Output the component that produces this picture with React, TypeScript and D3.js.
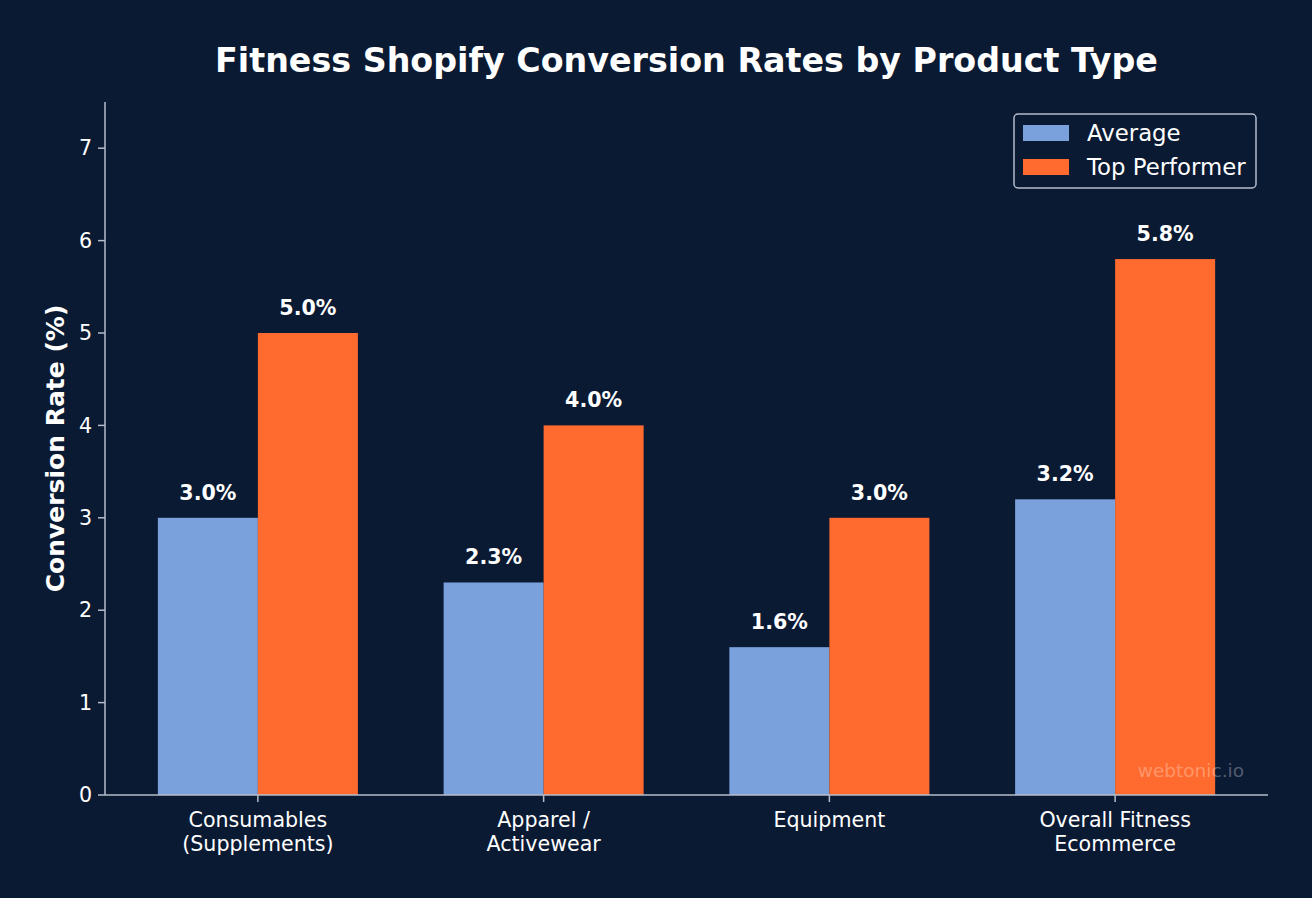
import * as d3 from 'd3';

const categories = ['Consumables\n(Supplements)', 'Apparel /\nActivewear', 'Equipment', 'Overall Fitness\nEcommerce'];
const averageRates = [3.0, 2.3, 1.6, 3.2];
const topRates = [5.0, 4.0, 3.0, 5.8];
const yTicks = [0, 1, 2, 3, 4, 5, 6, 7];
const seriesNames = ['Average', 'Top Performer'];

const width = 1312;
const height = 898;
const margin = { top: 102, right: 44, bottom: 103, left: 105 };
const bg = '#0b1a33';
const blue = '#7ba1dd';
const orange = '#ff6b2e';
const spine = '#b4bccb';
const font = 'DejaVu Sans, sans-serif';

export default function App() {
  const innerW = width - margin.left - margin.right;
  const innerH = height - margin.top - margin.bottom;

  const x = d3.scaleLinear().domain([-0.535, categories.length - 1 + 0.535]).range([0, innerW]);
  const y = d3.scaleLinear().domain([0, 7.5]).range([innerH, 0]);
  const barW = x(0.35) - x(0);

  const series = [
    { name: seriesNames[0], values: averageRates, color: blue, offset: -0.175 },
    { name: seriesNames[1], values: topRates, color: orange, offset: 0.175 },
  ];

  return (
    <svg width={width} height={height} style={{ display: 'block', position: 'absolute', left: 0, top: 0 }}>
      <rect width={width} height={height} fill={bg} />
      <text x={margin.left + innerW / 2} y={72} textAnchor="middle" fill="#fff"
        style={{ font: `bold 33.3px ${font}` }}>Fitness Shopify Conversion Rates by Product Type</text>
      <text transform={`translate(64,${margin.top + innerH / 2}) rotate(-90)`} textAnchor="middle" fill="#fff"
        style={{ font: `bold 25px ${font}` }}>Conversion Rate (%)</text>
      <g transform={`translate(${margin.left},${margin.top})`}>
        {series.map(s => s.values.map((v, i) => {
          const cx = x(i + s.offset);
          return (
            <g key={s.name + i}>
              <rect x={cx - barW / 2} y={y(v)} width={barW} height={y(0) - y(v)} fill={s.color} />
              <text x={cx} y={y(v) - 18} textAnchor="middle" fill="#fff"
                style={{ font: `bold 20.6px ${font}` }}>{v.toFixed(1)}%</text>
            </g>
          );
        }))}
        <line x1={0} x2={0} y1={0} y2={innerH} stroke={spine} strokeWidth={1.5} />
        <line x1={0} x2={innerW} y1={innerH} y2={innerH} stroke={spine} strokeWidth={1.5} />
        {yTicks.map(t => (
          <g key={t} transform={`translate(0,${y(t)})`}>
            <line x1={-7} x2={0} stroke={spine} strokeWidth={1.5} />
            <text x={-13} dy="0.35em" textAnchor="end" fill="#fff" style={{ font: `20.6px ${font}` }}>{t}</text>
          </g>
        ))}
        {categories.map((c, i) => (
          <g key={c} transform={`translate(${x(i)},${innerH})`}>
            <line y1={0} y2={7} stroke={spine} strokeWidth={1.5} />
            {c.split('\n').map((line, j) => (
              <text key={j} y={32 + j * 24} textAnchor="middle" fill="#fff" style={{ font: `20.6px ${font}` }}>{line}</text>
            ))}
          </g>
        ))}
        <text x={innerW - 24} y={innerH - 18} textAnchor="end" fill="#ffffff" fillOpacity={0.3}
          style={{ font: `18.5px ${font}` }}>webtonic.io</text>
        <g transform={`translate(${innerW - 254},12)`}>
          <rect width={242} height={74} rx={4} fill={bg} fillOpacity={0.8} stroke={spine} strokeWidth={1.5} />
          {series.map((s, i) => (
            <g key={s.name} transform={`translate(9,${19 + i * 34})`}>
              <rect x={0} y={-8} width={46} height={16} fill={s.color} />
              <text x={64} dy="0.35em" fill="#fff" style={{ font: `22.8px ${font}` }}>{s.name}</text>
            </g>
          ))}
        </g>
      </g>
    </svg>
  );
}
